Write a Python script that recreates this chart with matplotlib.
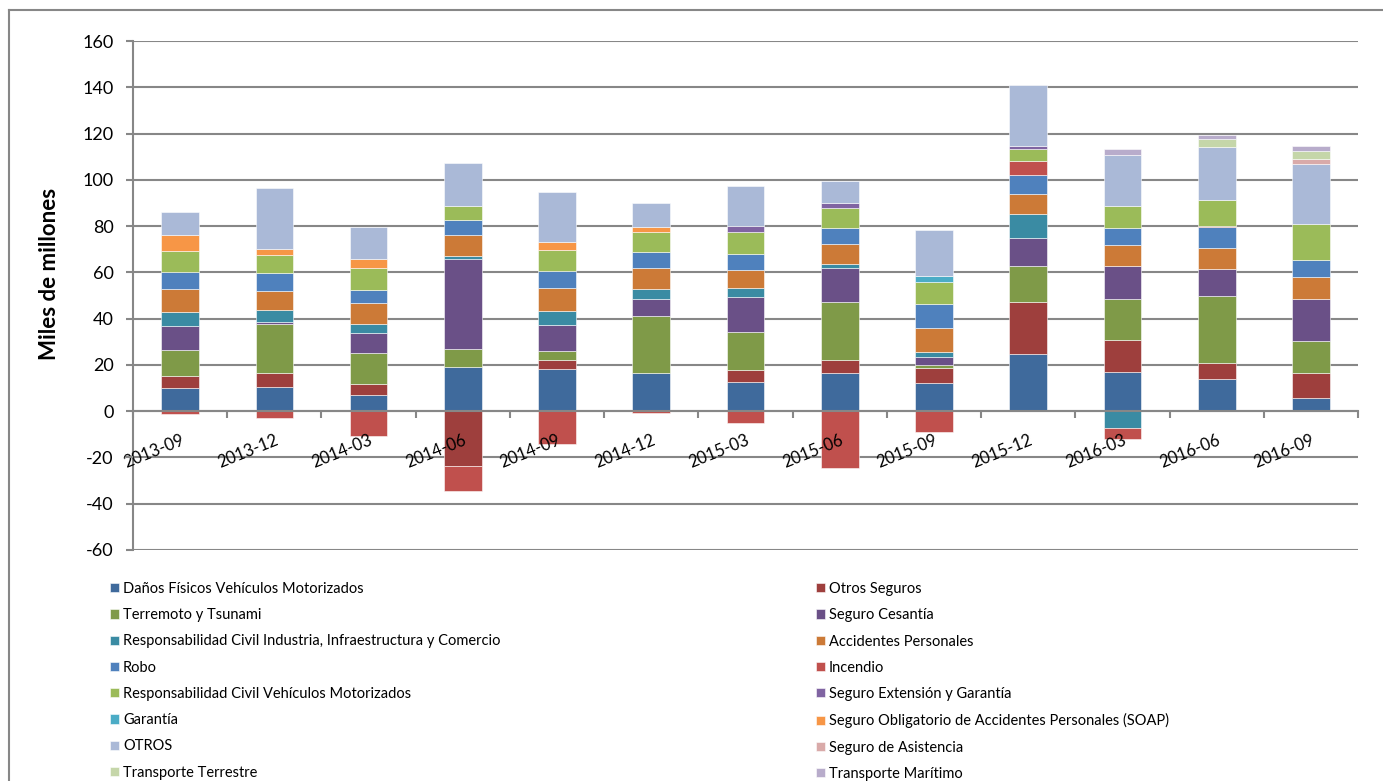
import numpy as np
import matplotlib
matplotlib.use("Agg")
import matplotlib.pyplot as plt
from matplotlib.lines import Line2D

plt.rcParams['font.family'] = ['Lato', 'DejaVu Sans']
plt.rcParams['axes.unicode_minus'] = False

W, H = 1383, 781
GRAY = '#878787'

# periods (quarters)
periodos = ['2013-09', '2013-12', '2014-03', '2014-06', '2014-09', '2014-12', '2015-03',
            '2015-06', '2015-09', '2015-12', '2016-03', '2016-06', '2016-09']

# values in miles de millones, one list per ramo
danos_fisicos = [10.0, 10.6, 6.9, 18.9, 18.1, 16.7, 12.6, 16.7, 12.1, 24.8, 17.0, 13.7, 5.9]
otros_seguros = [5.0, 5.7, 4.7, -23.7, 4.1, 0, 5.3, 5.6, 6.7, 22.6, 13.8, 7.2, 10.8]
terremoto = [11.3, 21.3, 13.4, 8.0, 4.0, 24.3, 16.3, 25.0, 1.1, 15.3, 17.9, 28.7, 13.5]
cesantia = [10.7, 1.1, 8.9, 38.7, 11.1, 7.4, 15.1, 14.6, 3.6, 12.0, 14.1, 11.7, 18.4]
rc_industria = [5.9, 5.0, 3.9, 1.4, 5.9, 4.3, 3.9, 1.7, 2.0, 10.7, -7.3, 0, 0]
acc_personales = [10.0, 8.3, 9.1, 9.3, 10.1, 9.3, 7.9, 8.7, 10.4, 8.6, 8.9, 9.1, 9.4]
robo = [7.1, 7.6, 5.4, 6.3, 7.4, 6.9, 7.0, 7.0, 10.3, 8.1, 7.6, 9.2, 7.5]
incendio = [-1.1, -2.9, -10.9, -10.6, -14.3, -0.9, -5.0, -24.7, -8.9, 5.9, -4.6, 0.4, 0]
rc_vehiculos = [9.1, 7.9, 9.7, 5.9, 9.0, 8.6, 9.4, 8.7, 9.7, 5.5, 9.5, 11.4, 15.3]
extension = [0, 0, 0, 0, 0, 0, 2.4, 1.9, 0, 1.3, 0, 0, 0]
garantia = [0, 0, 0, 0, 0, 0, 0, 0, 2.6, 0, 0, 0, 0]
soap = [7.1, 2.4, 3.7, 0, 3.4, 2.3, 0, 0, 0, 0, 0, 0, 0]
otros = [10.1, 26.4, 14.1, 18.9, 21.7, 10.0, 17.4, 9.6, 19.7, 26.2, 22.0, 22.9, 25.9]
asistencia = [0, 0, 0, 0, 0, 0, 0, 0, 0, 0, 0, 0, 2.4]
transp_terrestre = [0, 0, 0, 0, 0, 0, 0, 0, 0, 0, 0, 3.3, 3.2]
transp_maritimo = [0, 0, 0, 0, 0, 0, 0, 0, 0, 0, 2.6, 1.7, 2.2]

series = [
    ("Daños Físicos Vehículos Motorizados", danos_fisicos, '#3F6A9C'),
    ("Otros Seguros", otros_seguros, '#9E3F3D'),
    ("Terremoto y Tsunami", terremoto, '#7F9A48'),
    ("Seguro Cesantía", cesantia, '#6A5087'),
    ("Responsabilidad Civil Industria, Infraestructura y Comercio", rc_industria, '#3A8BA3'),
    ("Accidentes Personales", acc_personales, '#CC7A37'),
    ("Robo", robo, '#4F81BD'),
    ("Incendio", incendio, '#C0504D'),
    ("Responsabilidad Civil Vehículos Motorizados", rc_vehiculos, '#9BBB59'),
    ("Seguro Extensión y Garantía", extension, '#8064A2'),
    ("Garantía", garantia, '#4BACC6'),
    ("Seguro Obligatorio de Accidentes Personales (SOAP)", soap, '#F79646'),
    ("OTROS", otros, '#AAB9D7'),
    ("Seguro de Asistencia", asistencia, '#D9AAA9'),
    ("Transporte Terrestre", transp_terrestre, '#C5D6A9'),
    ("Transporte Marítimo", transp_maritimo, '#B8ACCB'),
]

fig = plt.figure(figsize=(W / 100, H / 100), dpi=100)
ax = fig.add_axes([133 / W, 1 - 550 / H, 1225 / W, 509 / H])

x = np.arange(len(periodos))
yticks = np.arange(-60, 161, 20)

# gridlines behind the bars
for yv in yticks:
    ax.axhline(yv, color=GRAY, linewidth=1.5, zorder=0.5)

pos_base = np.zeros(len(x))
neg_base = np.zeros(len(x))
handles = []
for name, vals, col in series:
    v = np.array(vals, dtype=float)
    bottom = np.where(v >= 0, pos_base, neg_base)
    m = v != 0
    bars = ax.bar(x[m], v[m], 0.4, bottom=bottom[m], color=col,
                  edgecolor=(1, 1, 1, 0.55), linewidth=0.7, label=name, zorder=1)
    handles.append(bars)
    pos_base += np.clip(v, 0, None)
    neg_base += np.clip(v, None, 0)

ax.set_xlim(-0.5, len(x) - 0.5)
ax.set_ylim(-60, 160)
ax.set_yticks(yticks)
ax.xaxis.set_zorder(5)
ax.yaxis.set_zorder(5)

for s in ['top', 'right']:
    ax.spines[s].set_visible(False)
ax.spines['left'].set_color(GRAY)
ax.spines['left'].set_linewidth(1.5)
ax.spines['bottom'].set_position(('data', 0))
ax.spines['bottom'].set_color(GRAY)
ax.spines['bottom'].set_linewidth(1.5)
ax.spines['bottom'].set_zorder(3)

ax.tick_params(axis='y', direction='out', length=5, width=1.5, color=GRAY,
               labelsize=13, pad=9)
ax.set_xticks(x)
ax.set_xticklabels(periodos, rotation=22, ha='right', va='top', rotation_mode='anchor')
ax.tick_params(axis='x', which='major', length=0, labelsize=12, pad=15)
ax.set_xticks(np.arange(-0.5, len(x), 1), minor=True)
ax.tick_params(axis='x', which='minor', direction='out', length=5, width=1.5, color=GRAY)

fig.text(50 / W, 1 - 274 / H, "Miles de millones", rotation=90, ha='center', va='center',
         fontsize=16, fontweight='bold')

# outer chart frame (cropped on right and bottom)
fig.add_artist(Line2D([9 / W, 1], [1 - 10 / H, 1 - 10 / H], color=GRAY, linewidth=1.5))
fig.add_artist(Line2D([9 / W, 9 / W], [0, 1 - 10 / H], color=GRAY, linewidth=1.5))

# legend: two columns, built as two legends
leg_kw = dict(frameon=False, fontsize=10.5, handlelength=0.6, handleheight=0.6,
              handletextpad=0.3, labelspacing=0.84, borderpad=0, borderaxespad=0,
              loc='upper left')
fig.legend(handles[0::2], [s[0] for s in series[0::2]],
           bbox_to_anchor=(110 / W, 1 - 582 / H), **leg_kw)
fig.legend(handles[1::2], [s[0] for s in series[1::2]],
           bbox_to_anchor=(816 / W, 1 - 582 / H), **leg_kw)

fig.savefig("out.png", dpi=100)
